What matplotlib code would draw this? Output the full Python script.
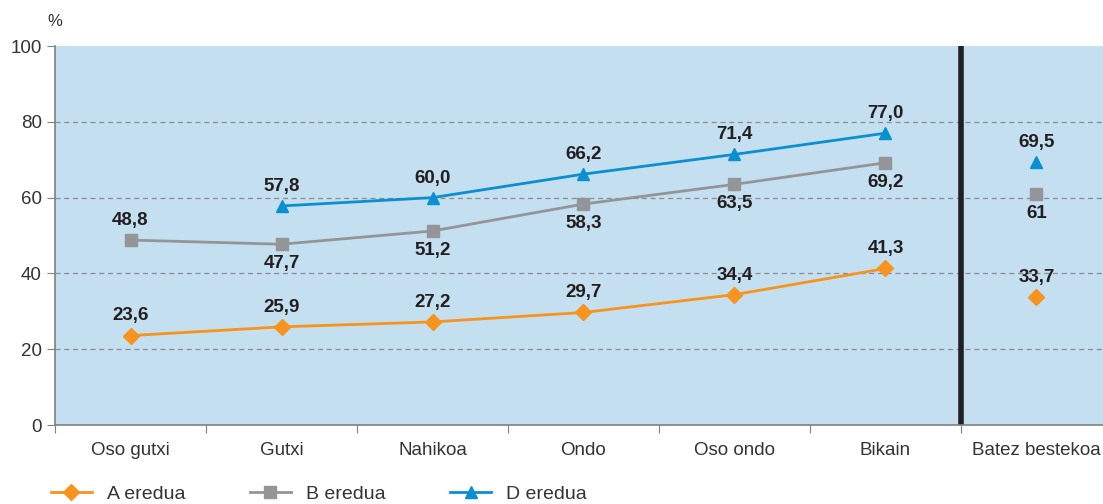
import numpy as np
import matplotlib.pyplot as plt

plt.rcParams['font.family'] = ['Liberation Sans', 'DejaVu Sans']

categories = ['Oso gutxi', 'Gutxi', 'Nahikoa', 'Ondo', 'Oso ondo', 'Bikain', 'Batez bestekoa']
a_eredua = [23.6, 25.9, 27.2, 29.7, 34.4, 41.3]
b_eredua = [48.8, 47.7, 51.2, 58.3, 63.5, 69.2]
d_eredua = [np.nan, 57.8, 60.0, 66.2, 71.4, 77.0]
averages = {'A': 33.7, 'B': 61, 'D': 69.5}
a_labels = ['23,6', '25,9', '27,2', '29,7', '34,4', '41,3', '33,7']
b_labels = ['48,8', '47,7', '51,2', '58,3', '63,5', '69,2', '61']
d_labels = ['', '57,8', '60,0', '66,2', '71,4', '77,0', '69,5']
b_above = [True, False, False, False, False, False, False]

orange = '#f7941d'
grey = '#939598'
blue = '#0a8fd0'
ink = '#231f20'

fig = plt.figure(figsize=(11.03, 5.04), dpi=100)
ax = fig.add_axes([0.0499, 0.1567, 0.950, 0.752])
ax.set_facecolor('#c3dff0')

x = np.arange(6)
ax.plot(x, a_eredua, color=orange, lw=2, marker='D', ms=8, label='A eredua', zorder=3)
ax.plot(x, b_eredua, color=grey, lw=2, marker='s', ms=8, label='B eredua', zorder=3)
ax.plot(x, d_eredua, color=blue, lw=2, marker='^', ms=9, label='D eredua', zorder=3)
ax.plot(6, averages['A'], color=orange, marker='D', ms=8, ls='none', zorder=3)
ax.plot(6, averages['B'], color=grey, marker='s', ms=8, ls='none', zorder=3)
ax.plot(6, averages['D'], color=blue, marker='^', ms=9, ls='none', zorder=3)

a_all = a_eredua + [averages['A']]
b_all = b_eredua + [averages['B']]
d_all = d_eredua + [averages['D']]
kw = dict(ha='center', fontsize=13.5, fontweight='bold', color=ink, zorder=4)
for i in range(7):
    ax.annotate(a_labels[i], (i, a_all[i]), xytext=(0, 8), textcoords='offset points', va='bottom', **kw)
    if b_above[i]:
        ax.annotate(b_labels[i], (i, b_all[i]), xytext=(0, 8), textcoords='offset points', va='bottom', **kw)
    else:
        ax.annotate(b_labels[i], (i, b_all[i]), xytext=(0, -8), textcoords='offset points', va='top', **kw)
    if d_labels[i]:
        ax.annotate(d_labels[i], (i, d_all[i]), xytext=(0, 8), textcoords='offset points', va='bottom', **kw)

# separator before the average column
ax.axvline(5.5, color=ink, lw=4, zorder=2)

ax.set_xlim(-0.5, 6.44)
ax.set_ylim(0, 100)
ax.set_yticks(range(0, 101, 20))
for yv in range(20, 100, 20):
    ax.axhline(yv, color='#8c8c8c', lw=0.9, ls=(0, (4, 3)), zorder=1)

ax.set_xticks(np.arange(-0.5, 6.5, 1))
ax.set_xticklabels([])
ax.set_xticks(np.arange(7), minor=True)
ax.set_xticklabels(categories, minor=True)
ax.tick_params(axis='x', which='minor', length=0, pad=12, labelsize=13.5, colors='#333333')
ax.tick_params(axis='x', which='major', length=6, color='#808080')
ax.tick_params(axis='y', length=6, color='#808080', labelsize=13.5, labelcolor='#333333')

for s in ['top', 'right']:
    ax.spines[s].set_visible(False)
for s in ['left', 'bottom']:
    ax.spines[s].set_color('#808080')
    ax.spines[s].set_linewidth(1.2)

ax.text(0.0, 1.045, '%', transform=ax.transAxes, ha='center', va='bottom', fontsize=12, color='#333333')

ax.legend(loc='upper left', bbox_to_anchor=(-0.004, -0.158), ncol=3, frameon=False,
          fontsize=14, handlelength=2.1, handletextpad=0.8, columnspacing=3.3,
          labelcolor='#333333', borderaxespad=0, borderpad=0)

fig.savefig('out.png', dpi=100)
